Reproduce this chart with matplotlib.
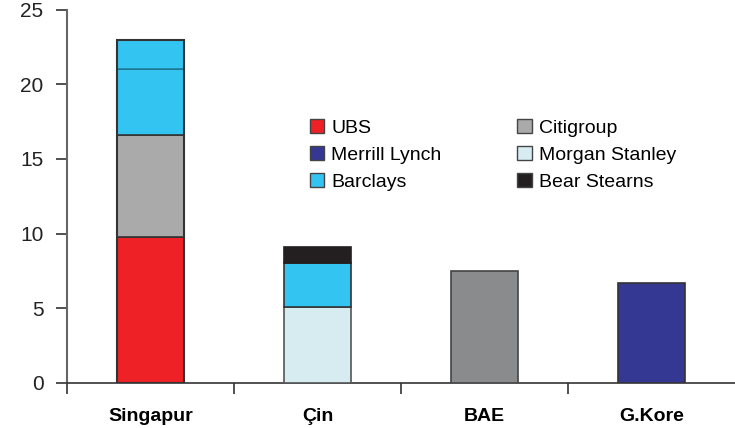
import matplotlib
matplotlib.use("Agg")
import matplotlib.pyplot as plt
from matplotlib.patches import Patch
import numpy as np

plt.rcParams['font.family'] = ['Liberation Sans', 'DejaVu Sans']

categories = ['Singapur', 'Çin', 'BAE', 'G.Kore']
# stacked segments per bank, bottom to top
ubs = [9.75, 0, 0, 0]
morgan_stanley = [0, 5.08, 0, 0]
citigroup = [6.83, 0, 0, 0]
bae_other = [0, 0, 7.5, 0]
merrill_lynch = [0, 0, 0, 6.66]
barclays = [4.41, 2.94, 0, 0]
barclays_2 = [1.94, 0, 0, 0]
bear_stearns = [0, 1.07, 0, 0]

c_ubs = '#ee2126'
c_ml = '#343893'
c_bar = '#33c4f1'
c_citi = '#aaaaaa'
c_ms = '#d6ecf1'
c_bs = '#231f20'
c_bae = '#8a8b8d'

fig = plt.figure(figsize=(7.35, 4.28), dpi=100)
ax = fig.add_axes([67 / 735, 45 / 428, (735 - 67) / 735, (383 - 9.5) / 428])

x = np.arange(len(categories))
w = 0.4
bottom = np.zeros(len(categories))
stack = [(ubs, c_ubs, '#333333'), (morgan_stanley, c_ms, '#555555'),
         (citigroup, c_citi, '#333333'), (bae_other, c_bae, '#444444'),
         (merrill_lynch, c_ml, '#333333'), (barclays, c_bar, '#333333'),
         (barclays_2, c_bar, '#1a7fa0'), (bear_stearns, c_bs, '#231f20')]
for vals, col, ec in stack:
    vals = np.array(vals, dtype=float)
    mask = vals > 0
    ax.bar(x[mask], vals[mask], w, bottom=bottom[mask], color=col,
           edgecolor=ec, linewidth=1.2, zorder=3)
    bottom += vals
# outline of singapur bar drawn again so the inner thin line stays thin
ax.bar(x[0], bottom[0], w, fill=False, edgecolor='#333333', linewidth=1.5, zorder=4)

ax.set_xlim(-0.5, 3.5)
ax.set_ylim(0, 25)
ax.set_yticks([0, 5, 10, 15, 20, 25])
ax.set_xticks([-0.5, 0.5, 1.5, 2.5])
ax.set_xticklabels([])
ax.set_xticks(x, minor=True)
ax.set_xticklabels(categories, minor=True, fontweight='bold', fontsize=14)
ax.tick_params(axis='x', which='minor', length=0, pad=18)
ax.tick_params(axis='x', which='major', direction='out', length=8, width=1.2,
               color='#333333')
ax.tick_params(axis='y', direction='out', length=8, width=1.2, color='#333333',
               labelsize=15, pad=9, labelcolor='#222222')
for s in ['top', 'right']:
    ax.spines[s].set_visible(False)
ax.spines['left'].set_color('#666666')
ax.spines['left'].set_linewidth(1.5)
ax.spines['bottom'].set_color('#333333')
ax.spines['bottom'].set_linewidth(1.2)

labels = ['UBS', 'Merrill Lynch', 'Barclays', 'Citigroup', 'Morgan Stanley', 'Bear Stearns']
colors = [c_ubs, c_ml, c_bar, c_citi, c_ms, c_bs]
handles = [Patch(facecolor=c, edgecolor='#444444', linewidth=1) for c in colors]
ax.legend(handles, labels, ncol=2, frameon=False, fontsize=14,
          loc='upper left', bbox_to_anchor=((302 - 67) / 668, (383 - 111) / 373.5),
          handlelength=0.75, handleheight=0.75, handletextpad=0.35,
          columnspacing=3.9, labelspacing=0.48, borderaxespad=0)

fig.savefig('out.png', dpi=100)
